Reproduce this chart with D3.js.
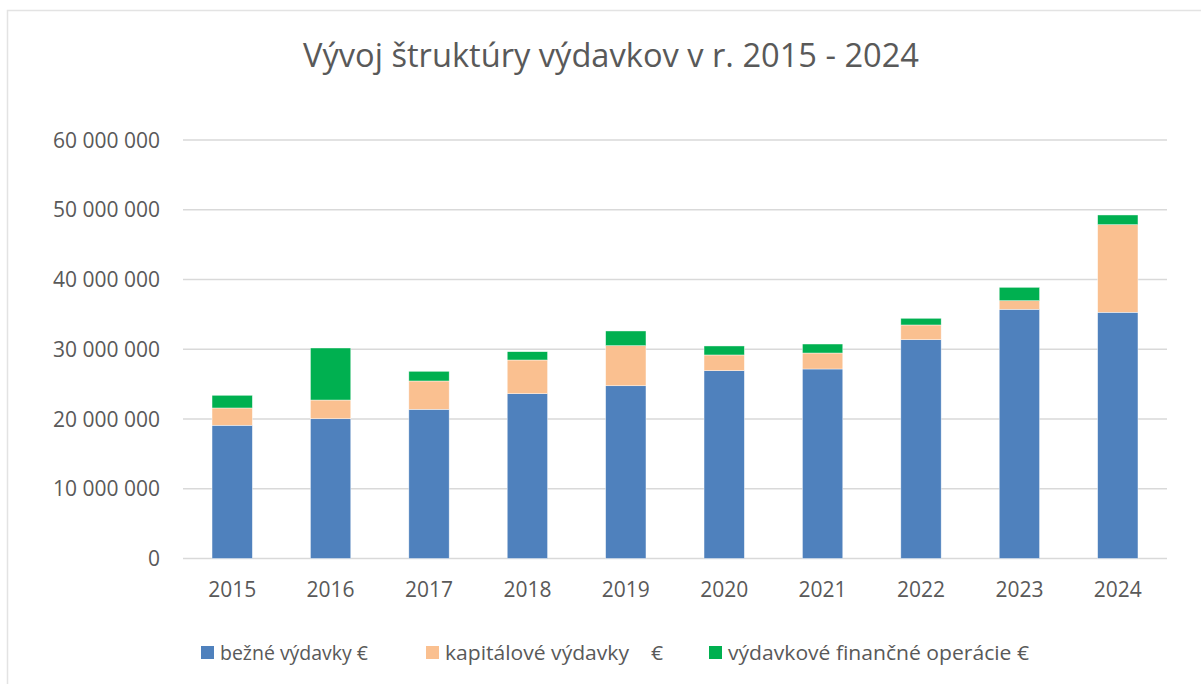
<!DOCTYPE html>
<html>
<head>
<meta charset="utf-8">
<script src="https://cdn.jsdelivr.net/npm/d3@7"></script>
<style>
  html, body { margin: 0; padding: 0; background: #ffffff; }
  svg { display: block; }
  text { font-family: "Open Sans", "Lato", sans-serif; fill: #595959; }
</style>
</head>
<body>
<svg id="chart" width="1201" height="684"></svg>
<script>
const title = "Vývoj štruktúry výdavkov v r. 2015 - 2024";
const years = ["2015","2016","2017","2018","2019","2020","2021","2022","2023","2024"];
const bezne =      [19100000, 20040000, 21390000, 23630000, 24770000, 26930000, 27170000, 31370000, 35730000, 35300000];
const kapitalove = [ 2480000,  2680000,  4060000,  4830000,  5740000,  2250000,  2290000,  2110000,  1230000, 12560000];
const financne =   [ 1820000,  7460000,  1390000,  1190000,  2110000,  1290000,  1290000,   960000,  1920000,  1390000];
const seriesNames = ["bežné výdavky €", "kapitálové výdavky    €", "výdavkové finančné operácie €"];
const seriesColors = ["#4f81bd", "#fac090", "#00b050"];
const yTicks = [0, 10000000, 20000000, 30000000, 40000000, 50000000, 60000000];

const svg = d3.select("#chart");

// chart area border
svg.append("rect")
  .attr("x", 7.5).attr("y", 10.5).attr("width", 1200).attr("height", 690)
  .attr("fill", "#ffffff").attr("stroke", "#e3e3e3").attr("stroke-width", 1.5);

const plot = { left: 183, right: 1167, top: 140, bottom: 558.5 };

const x = d3.scaleBand().domain(years).range([plot.left, plot.right]).paddingInner(0.59).paddingOuter(0.295);
const y = d3.scaleLinear().domain([0, 60000000]).range([plot.bottom, plot.top]);

// gridlines
svg.append("g").selectAll("line").data(yTicks).join("line")
  .attr("x1", plot.left).attr("x2", plot.right)
  .attr("y1", d => y(d)).attr("y2", d => y(d))
  .attr("stroke", "#d9d9d9").attr("stroke-width", 1.5);

// y labels
const fmt = v => d3.format(",")(v).replace(/,/g, " ");
svg.append("g").selectAll("text").data(yTicks).join("text")
  .attr("x", 160).attr("y", d => y(d))
  .attr("dy", "0.36em")
  .attr("text-anchor", "end")
  .attr("font-size", 21)
  .text(d => fmt(d));

// stacked data
const table = years.map((yr, i) => ({ year: yr, s0: bezne[i], s1: kapitalove[i], s2: financne[i] }));
const stack = d3.stack().keys(["s0", "s1", "s2"])(table);

svg.append("g").selectAll("g").data(stack).join("g")
  .attr("fill", (d, i) => seriesColors[i])
  .selectAll("rect").data(d => d).join("rect")
  .attr("x", d => x(d.data.year))
  .attr("width", x.bandwidth())
  .attr("y", d => y(d[1]))
  .attr("height", d => y(d[0]) - y(d[1]))
  .attr("stroke", "#ffffff").attr("stroke-width", 0.6).attr("stroke-opacity", 0.7);

// x labels
svg.append("g").selectAll("text").data(years).join("text")
  .attr("x", d => x(d) + x.bandwidth() / 2)
  .attr("y", 597)
  .attr("text-anchor", "middle")
  .attr("font-size", 21)
  .text(d => d);

// title
svg.append("text")
  .attr("x", 611).attr("y", 67)
  .attr("text-anchor", "middle")
  .attr("font-size", 33)
  .attr("textLength", 616)
  .attr("lengthAdjust", "spacingAndGlyphs")
  .text(title);

// legend
const legendX = [201, 426, 709];
const legendW = [148, 218, 301];
const lg = svg.append("g").selectAll("g").data(seriesNames).join("g")
  .attr("transform", (d, i) => `translate(${legendX[i]},653)`);
lg.append("rect").attr("x", 0).attr("y", -7).attr("width", 13).attr("height", 13)
  .attr("fill", (d, i) => seriesColors[i]);
lg.append("text").attr("x", 19).attr("y", 0).attr("dy", "0.36em")
  .attr("font-size", 20)
  .attr("textLength", (d, i) => legendW[i])
  .attr("lengthAdjust", "spacingAndGlyphs")
  .style("white-space", "pre")
  .text(d => d);
</script>
</body>
</html>
